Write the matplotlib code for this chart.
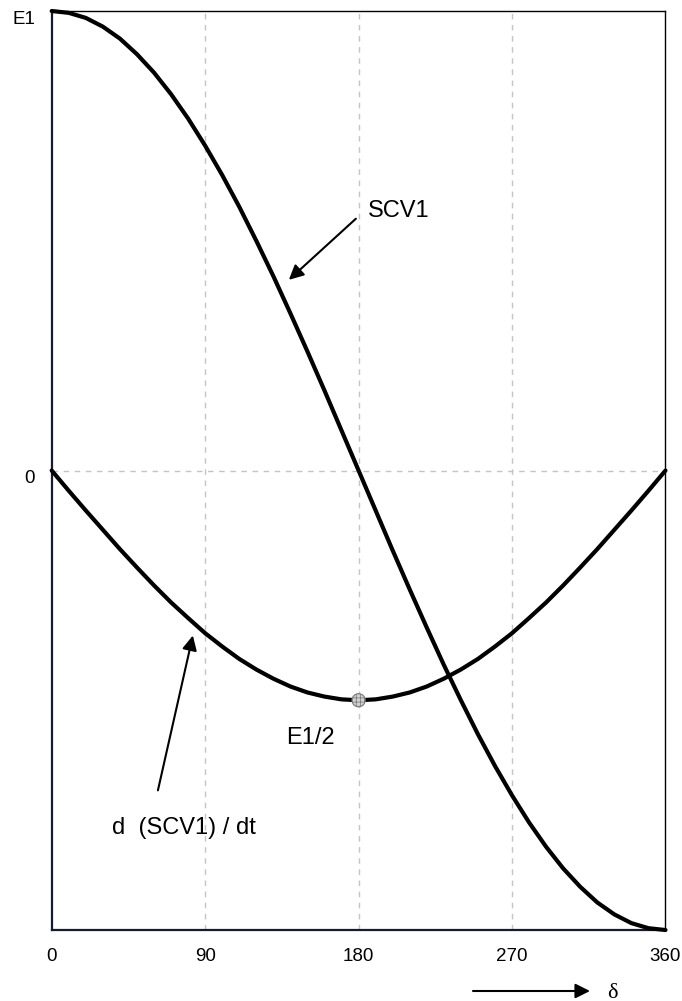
import matplotlib
matplotlib.use("Agg")
import matplotlib.pyplot as plt
import matplotlib.transforms as mtransforms

plt.rcParams['font.family'] = ['Liberation Sans', 'DejaVu Sans']
plt.rcParams['hatch.linewidth'] = 0.5

# angle delta (degrees)
delta = [0, 10, 20, 30, 40, 50, 60, 70, 80, 90, 100, 110, 120, 130, 140, 150, 160, 170, 180,
         190, 200, 210, 220, 230, 240, 250, 260, 270, 280, 290, 300, 310, 320, 330, 340, 350, 360]

# SCV1 (in units of E1)
scv1 = [1.000, 0.996, 0.985, 0.966, 0.940, 0.906, 0.866, 0.819, 0.766, 0.707, 0.643, 0.574,
        0.500, 0.423, 0.342, 0.259, 0.174, 0.087, 0.000, -0.087, -0.174, -0.259, -0.342,
        -0.423, -0.500, -0.574, -0.643, -0.707, -0.766, -0.819, -0.866, -0.906, -0.940,
        -0.966, -0.985, -0.996, -1.000]

# d(SCV1)/dt
dscv1 = [0.000, -0.044, -0.087, -0.129, -0.171, -0.211, -0.250, -0.287, -0.321, -0.354,
         -0.383, -0.410, -0.433, -0.453, -0.470, -0.483, -0.492, -0.498, -0.500, -0.498,
         -0.492, -0.483, -0.470, -0.453, -0.433, -0.410, -0.383, -0.354, -0.321, -0.287,
         -0.250, -0.211, -0.171, -0.129, -0.087, -0.044, 0.000]

xticks = [0, 90, 180, 270, 360]
yticks = [0, 1]
ytick_labels = ['0', 'E1']
min_point = (180, -0.5)

fig = plt.figure(figsize=(6.82, 10.01), dpi=100)
ax = fig.add_axes([0.0758, 0.0709, 0.9000, 0.9181])

ax.plot(delta, scv1, color='black', lw=3, clip_on=False, solid_capstyle='round', zorder=3)
ax.plot(delta, dscv1, color='black', lw=3, clip_on=False, solid_capstyle='round', zorder=3)
ax.scatter([min_point[0]], [min_point[1]], s=90, facecolor='#d0d0d0', edgecolor='#777777',
           linewidth=0.8, hatch='++++', zorder=4)

ax.set_xlim(0, 360)
ax.set_ylim(-1, 1)
ax.set_xticks(xticks)
ax.set_yticks(yticks)
ax.set_yticklabels(ytick_labels)
ax.tick_params(axis='both', length=0, labelsize=13.5)
ax.tick_params(axis='x', pad=13)
ax.tick_params(axis='y', pad=12)

# y labels sit a bit below their tick
offset = mtransforms.ScaledTranslation(0, -6 / 100, fig.dpi_scale_trans)
for lab in ax.get_yticklabels():
    lab.set_transform(lab.get_transform() + offset)

# dashed grid: verticals at 90/180/270, horizontal at 0
for x in [90, 180, 270]:
    ax.axvline(x, color='#c4c4c4', lw=1, ls=(0, (4, 4)), zorder=1)
ax.axhline(0, color='#c4c4c4', lw=1, ls=(0, (4, 4)), zorder=1)

for side in ['top', 'right']:
    ax.spines[side].set_linewidth(1.0)
    ax.spines[side].set_color('black')
for side in ['left', 'bottom']:
    ax.spines[side].set_linewidth(1.6)
    ax.spines[side].set_color('#1a1a2e')

# labels and arrows
ax.annotate('', xy=(139.1, 0.415), xytext=(178.4, 0.548),
            arrowprops=dict(arrowstyle='-|>', color='black', lw=1.5, mutation_scale=22,
                            shrinkA=0, shrinkB=0))
ax.text(203.7, 0.565, 'SCV1', fontsize=17, ha='center', va='center')

ax.text(152.0, -0.583, 'E1/2', fontsize=17, ha='center', va='center')

ax.annotate('', xy=(82.8, -0.359), xytext=(62.3, -0.696),
            arrowprops=dict(arrowstyle='-|>', color='black', lw=1.5, mutation_scale=22,
                            shrinkA=0, shrinkB=0))
ax.text(77.6, -0.778, 'd  (SCV1) / dt', fontsize=17, ha='center', va='center')

# delta axis arrow under the chart
fig.add_artist(matplotlib.patches.FancyArrowPatch(
    (473, 10), (590, 10), transform=None, arrowstyle='-|>', color='black', lw=1.5,
    mutation_scale=22, shrinkA=0, shrinkB=0))
fig.text(612 / 682, 8 / 1001, 'δ', fontsize=16, family=['Liberation Serif', 'DejaVu Serif'],
         ha='center', va='center')

fig.savefig('out.png', dpi=100)
